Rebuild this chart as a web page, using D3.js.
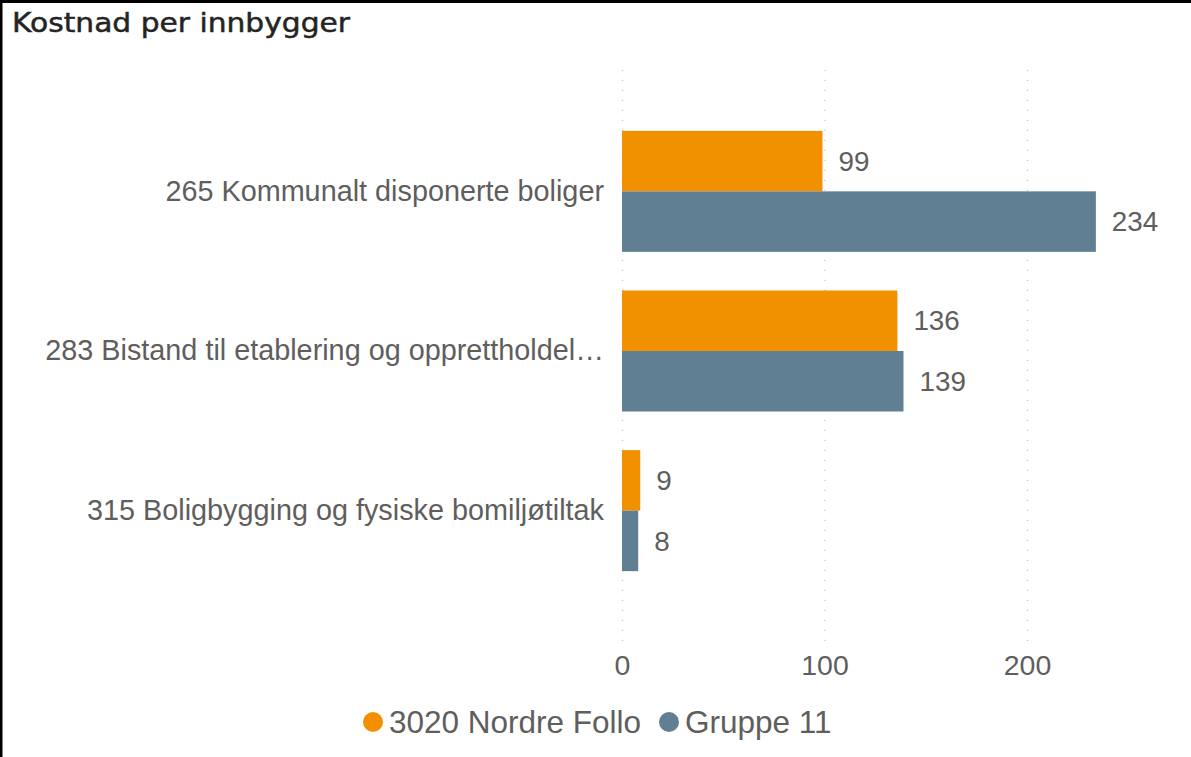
<!DOCTYPE html>
<html>
<head>
<meta charset="utf-8">
<script src="https://cdn.jsdelivr.net/npm/d3@7"></script>
<style>
  html, body { margin: 0; padding: 0; background: #ffffff; }
  svg { display: block; }
  text { font-family: "Liberation Sans", Arial, sans-serif; }
</style>
</head>
<body>
<svg id="chart" width="1191" height="757"></svg>
<script>
// Kostnad per innbygger – grouped horizontal bars
const categories = [
  "265 Kommunalt disponerte boliger",
  "283 Bistand til etablering og opprettholdel…",
  "315 Boligbygging og fysiske bomiljøtiltak"
];
const seriesNames = ["3020 Nordre Follo", "Gruppe 11"];
const nordreFollo = [99, 136, 9];
const gruppe11 = [234, 139, 8];
const xTicks = [0, 100, 200];
const seriesColors = ["#F29100", "#607F92"];

const rows = categories.map((c, i) => ({
  category: c,
  values: [
    { series: seriesNames[0], value: nordreFollo[i] },
    { series: seriesNames[1], value: gruppe11[i] }
  ]
}));

const svg = d3.select("#chart");
const textColor = "#605E5C";

// frame (top and left edge)
svg.append("line").attr("x1", 0).attr("x2", 1191).attr("y1", 1.5).attr("y2", 1.5)
  .attr("stroke", "#000").attr("stroke-width", 3);
svg.append("line").attr("x1", 1.2).attr("x2", 1.2).attr("y1", 0).attr("y2", 757)
  .attr("stroke", "#000").attr("stroke-width", 2.6);

// title
svg.append("text")
  .attr("x", 12).attr("y", 31.5)
  .attr("fill", "#252423")
  .attr("stroke", "#252423")
  .attr("stroke-width", 0.5)
  .style("font-family", "'DejaVu Sans', sans-serif")
  .style("font-size", "27px")
  .attr("textLength", 338)
  .attr("lengthAdjust", "spacingAndGlyphs")
  .text("Kostnad per innbygger");

const x = d3.scaleLinear().domain([0, 200]).range([622, 1027]);
const y = d3.scaleBand().domain(categories).range([71, 631])
  .paddingInner(0.242).paddingOuter(0.375);
const ySub = d3.scaleBand().domain(seriesNames).range([0, y.bandwidth()]);
const color = d3.scaleOrdinal().domain(seriesNames).range(seriesColors);

// dotted vertical gridlines
const grid = svg.append("g").attr("transform", "translate(0,641)")
  .call(d3.axisBottom(x).tickValues(xTicks).tickSize(-571).tickFormat(""));
grid.select(".domain").remove();
grid.selectAll(".tick line")
  .attr("stroke", "#C8C6C4")
  .attr("stroke-width", 1.3)
  .attr("stroke-dasharray", "1.3,8.7");

// x tick labels
const xAxis = svg.append("g").attr("transform", "translate(0,641)")
  .call(d3.axisBottom(x).tickValues(xTicks).tickSize(0).tickPadding(14).tickFormat(d3.format("d")));
xAxis.select(".domain").remove();
xAxis.selectAll("text")
  .attr("fill", textColor)
  .style("font-family", "'Liberation Sans', Arial, sans-serif")
  .style("font-size", "28.5px");

// category labels
const yAxis = svg.append("g").attr("transform", "translate(622,0)")
  .call(d3.axisLeft(y).tickSize(0).tickPadding(18));
yAxis.select(".domain").remove();
yAxis.selectAll("text")
  .attr("fill", textColor)
  .style("font-family", "'Liberation Sans', Arial, sans-serif")
  .style("font-size", "28.8px");

// bars and value labels
const groups = svg.append("g").selectAll("g")
  .data(rows).join("g")
  .attr("transform", d => `translate(0,${y(d.category)})`);

groups.selectAll("rect")
  .data(d => d.values).join("rect")
  .attr("x", x(0))
  .attr("y", d => ySub(d.series))
  .attr("width", d => x(d.value) - x(0))
  .attr("height", ySub.bandwidth())
  .attr("fill", d => color(d.series));

groups.selectAll("text.val")
  .data(d => d.values).join("text")
  .attr("class", "val")
  .attr("x", d => x(d.value) + 16)
  .attr("y", d => ySub(d.series) + ySub.bandwidth() / 2)
  .attr("dy", "0.35em")
  .attr("fill", textColor)
  .style("font-size", "27.8px")
  .text(d => d.value);

// legend
const legendItems = [
  { name: seriesNames[0], cx: 373, tx: 389 },
  { name: seriesNames[1], cx: 669, tx: 685 }
];
const legend = svg.append("g");
legend.selectAll("circle").data(legendItems).join("circle")
  .attr("cx", d => d.cx).attr("cy", 722).attr("r", 10)
  .attr("fill", d => color(d.name));
legend.selectAll("text").data(legendItems).join("text")
  .attr("x", d => d.tx).attr("y", 722).attr("dy", "0.35em")
  .attr("fill", textColor)
  .style("font-size", "31.5px")
  .text(d => d.name);
</script>
</body>
</html>
